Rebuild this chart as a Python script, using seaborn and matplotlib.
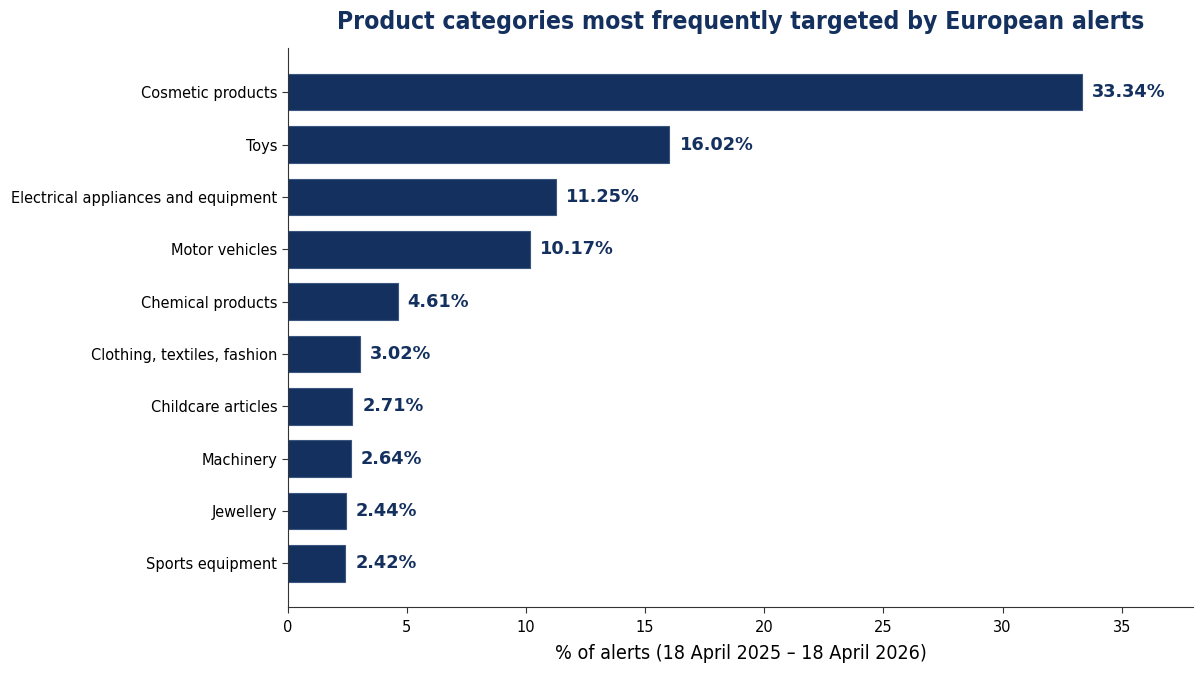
import numpy as np
import pandas as pd
import matplotlib.pyplot as plt
import seaborn as sns

categories = ["Cosmetic products", "Toys", "Electrical appliances and equipment",
              "Motor vehicles", "Chemical products", "Clothing, textiles, fashion",
              "Childcare articles", "Machinery", "Jewellery", "Sports equipment"]
shares = [33.34, 16.02, 11.25, 10.17, 4.61, 3.02, 2.71, 2.64, 2.44, 2.42]

navy = "#14305e"

sns.set_style("white")
plt.rcParams['font.family'] = ['DejaVu Sans']
plt.rcParams['font.stretch'] = 'condensed'
plt.rcParams['xtick.color'] = '#333333'
plt.rcParams['ytick.color'] = '#333333'
plt.rcParams['xtick.labelcolor'] = 'black'
plt.rcParams['ytick.labelcolor'] = 'black'
plt.rcParams['xtick.labelsize'] = 11.7
plt.rcParams['ytick.labelsize'] = 11.7

df = pd.DataFrame({"category": categories, "share": shares})

fig, ax = plt.subplots(figsize=(12.04, 6.73), dpi=100)
sns.barplot(data=df, x="share", y="category", orient="h", color=navy,
            width=0.7, saturation=1, edgecolor="#3a5580", linewidth=0.8, ax=ax)

# value labels to the right of each bar
for i, v in enumerate(shares):
    ax.text(v + 0.42, i, f"{v:.2f}%", va="center", ha="left",
            fontsize=12.8, fontweight="bold", color=navy, fontstretch="normal")

ax.set_xlim(0, 38)
ax.set_ylim(9.835, -0.835)
ax.set_xticks(np.arange(0, 36, 5))
ax.set_ylabel("")
ax.set_xlabel("% of alerts (18 April 2025 – 18 April 2026)", fontsize=14.1,
              color="black", labelpad=7)
ax.set_title("Product categories most frequently targeted by European alerts",
             fontsize=17.7, fontweight="bold", color=navy, pad=14)

sns.despine(ax=ax)
for s in ["left", "bottom"]:
    ax.spines[s].set_color("#333333")
ax.tick_params(axis="both", length=4, left=True, bottom=True)
ax.tick_params(axis="x", pad=5)

plt.subplots_adjust(left=0.239, right=0.991, top=0.928, bottom=0.098)
plt.savefig("out.png", dpi=100)
